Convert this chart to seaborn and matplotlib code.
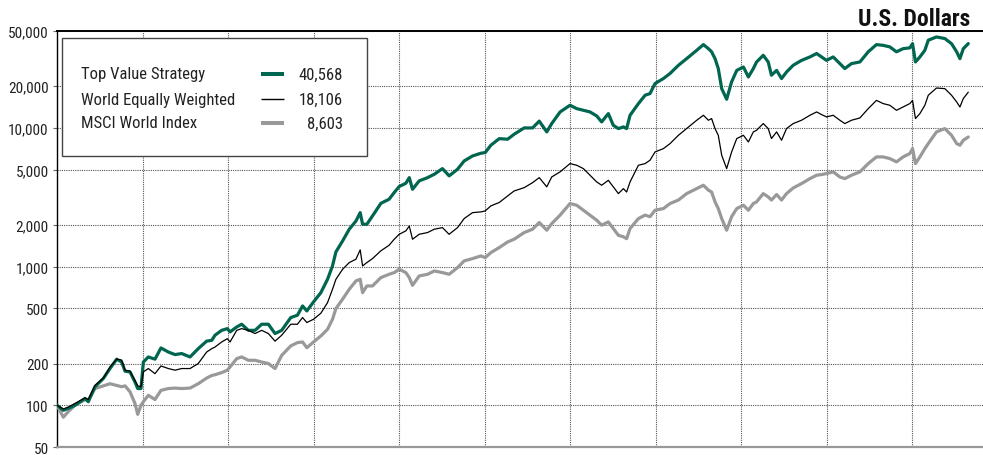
import matplotlib
matplotlib.use("Agg")
import matplotlib.pyplot as plt
import seaborn as sns
import pandas as pd
from matplotlib import font_manager
from matplotlib.ticker import FixedLocator, FuncFormatter, NullLocator
from matplotlib.patches import Rectangle

# ---------------- data ----------------
years = [
    1970.0, 1970.37, 1970.66, 1971.05, 1971.64, 1971.83, 1972.22, 1972.71, 1973.1, 1973.49,
    1973.78, 1973.98, 1974.27, 1974.56, 1974.72, 1974.91, 1975.05, 1975.34, 1975.73, 1976.08,
    1976.51, 1976.9, 1977.29, 1977.78, 1978.26, 1978.75, 1979.05, 1979.24, 1979.63, 1979.96,
    1980.12, 1980.51, 1980.8, 1981.19, 1981.58, 1981.97, 1982.36, 1982.75, 1983.14,
    1983.67, 1984.06, 1984.36, 1984.61, 1985.0, 1985.43, 1985.82, 1986.11, 1986.31, 1986.7,
    1987.09, 1987.48, 1987.73, 1987.87, 1988.12, 1988.45, 1988.94, 1989.42, 1989.72, 1990.01,
    1990.4, 1990.6, 1990.79, 1991.18, 1991.67, 1992.06, 1992.54, 1992.93, 1993.42, 1993.81,
    1994.3, 1994.79, 1995.04, 1995.37, 1995.86, 1996.35, 1996.73, 1997.32, 1997.81, 1998.2,
    1998.64, 1998.93, 1999.42, 2000.0, 2000.39, 2000.78, 2001.17, 2001.56, 2001.85, 2002.24,
    2002.53, 2002.83, 2003.12, 2003.31, 2003.51, 2004.0, 2004.39, 2004.68, 2004.97, 2005.46,
    2005.85, 2006.34, 2006.82, 2007.41, 2007.8, 2008.09, 2008.28, 2008.48, 2008.67, 2008.87,
    2009.16, 2009.45, 2009.75, 2010.14, 2010.43, 2010.72,
    2010.91, 2011.3, 2011.59, 2011.78, 2012.08, 2012.37, 2012.66, 2013.05, 2013.54, 2014.03,
    2014.42, 2014.71, 2015.0, 2015.39, 2015.78, 2016.07, 2016.46, 2016.95, 2017.44, 2017.92,
    2018.31, 2018.7, 2019.09, 2019.48, 2019.87, 2020.03, 2020.2, 2020.46, 2020.75, 2020.95,
    2021.43, 2021.92, 2022.31, 2022.61, 2022.8, 2023.0, 2023.29,
]

top_value = [
    100, 92, 95, 100, 112, 106, 136, 156, 184, 215,
    205, 176, 174, 147, 132, 132, 205, 223, 215, 259,
    242, 232, 236, 223, 256, 290, 294, 320, 347, 357,
    338, 367, 384, 347, 347, 384, 384, 329, 347,
    429, 446, 520, 479, 556, 649, 810, 1011, 1276, 1530,
    1860, 2130, 2450, 2020, 2020, 2320, 2860, 3060, 3420, 3780,
    3990, 4380, 3610, 4150, 4380, 4630, 5090, 4510, 5030, 5780,
    6280, 6570, 6640, 7500, 8370, 8290, 9000, 10000, 10000, 11200,
    9360, 10750, 13040, 14570, 13780, 13400, 13040, 12200, 11050, 12690,
    10450, 9890, 10170, 9890, 12340, 14980, 17200, 17700, 20900, 22700,
    24700, 28300, 31600, 36300, 39900, 37300, 35400, 31600, 26800, 19200,
    16100, 21500, 26000, 27500, 23300, 26800,
    29900, 33400, 29900, 24000, 26000, 22700, 25300, 28300, 30700, 32500,
    34400, 32500, 30700, 32500, 29100, 26800, 29100, 29900, 35400, 39900,
    39400, 38400, 35400, 37300, 37800, 40500, 29900, 32500, 36300, 42900,
    45300, 44100, 40500, 35400, 31600, 37300, 40568,
]

world_equal = [
    100, 94, 97, 103, 113, 110, 139, 157, 189, 215,
    212, 179, 176, 151, 138, 136, 174, 184, 169, 192,
    184, 179, 184, 184, 200, 242, 256, 263, 286, 302,
    286, 347, 357, 347, 329, 347, 329, 290, 320,
    384, 384, 429, 395, 417, 461, 550, 686, 810, 956,
    1069, 1130, 1320, 1011, 1069, 1142, 1300, 1425, 1575, 1710,
    1810, 1960, 1575, 1710, 1760, 1860, 1910, 1710, 1910, 2220,
    2450, 2480, 2520, 2740, 2900, 3230, 3510, 3710, 4030, 4380,
    3760, 4430, 4820, 5530, 5380, 5090, 4560, 4080, 3860, 4190,
    3760, 3360, 3650, 3450, 4080, 5380, 5530, 5850, 6710, 7090,
    7710, 8850, 9890, 11360, 12340, 11360, 11680, 9890, 8850, 6350,
    5090, 6710, 8380, 8850, 7920, 9360,
    9620, 10750, 9890, 8380, 9360, 8150, 9890, 10750, 11360, 12340,
    13040, 12480, 12000, 12340, 11360, 10750, 11360, 11800, 13780, 15800,
    14980, 14570, 13400, 14160, 14980, 15800, 11680, 12690, 14570, 17200,
    19400, 19200, 17200, 15400, 14160, 16300, 18106,
]

msci_world = [
    100, 82, 90, 100, 110, 109, 132, 138, 143, 139,
    136, 138, 125, 103, 86, 100, 106, 118, 110, 128,
    132, 133, 132, 133, 143, 157, 164, 166, 172, 179,
    189, 217, 223, 211, 211, 205, 200, 184, 229,
    268, 283, 286, 260, 286, 316, 353, 417, 498, 582,
    686, 788, 810, 649, 725, 725, 833, 880, 905, 956,
    905, 833, 733, 856, 880, 930, 905, 880, 983, 1099,
    1142, 1194, 1161, 1262, 1371, 1505, 1575, 1760, 1860, 2080,
    1830, 2040, 2350, 2850, 2770, 2550, 2350, 2160, 1990, 2100,
    1880, 1680, 1640, 1590, 1880, 2220, 2350, 2290, 2550, 2620,
    2850, 3020, 3360, 3650, 3860, 3560, 3450, 2930, 2620, 2220,
    1830, 2290, 2620, 2770, 2550, 2850,
    2930, 3360, 3180, 3020, 3310, 3020, 3360, 3690, 3970, 4310,
    4560, 4610, 4690, 4820, 4430, 4310, 4560, 4820, 5530, 6180,
    6180, 6010, 5690, 6180, 6530, 7090, 5530, 6180, 7090, 7710,
    9360, 9890, 8850, 7710, 7500, 8150, 8603,
]

series_names = ["Top Value Strategy", "World Equally Weighted", "MSCI World Index"]
end_labels = ["40,568", "18,106", "8,603"]
y_ticks = [50, 100, 200, 500, 1000, 2000, 5000, 10000, 20000, 50000]
x_grid_years = [1975, 1980, 1985, 1990, 1995, 2000, 2005, 2010, 2015, 2020]
title = "U.S. Dollars"

# ---------------- styling ----------------
sns.set_style("white")
available = {f.name for f in font_manager.fontManager.ttflist}
family = [f for f in ["Liberation Sans Narrow", "Roboto Condensed", "Liberation Sans"] if f in available]
plt.rcParams["font.family"] = family + ["DejaVu Sans"]

GREEN = "#00664f"
BLACK = "#000000"
GRAY = "#999999"
colors = [GREEN, BLACK, GRAY]
widths = [2.3, 0.9, 2.3]

df = pd.DataFrame({"year": years,
                   series_names[0]: top_value,
                   series_names[1]: world_equal,
                   series_names[2]: msci_world})

W, H = 983, 456
fig = plt.figure(figsize=(W / 100, H / 100), dpi=100)
ax = fig.add_axes([57 / W, 8 / H, 926 / W, 416 / H])

# draw order: gray, green, black on top
for idx in [2, 0, 1]:
    sns.lineplot(data=df, x="year", y=series_names[idx], ax=ax, color=colors[idx],
                 linewidth=widths[idx], estimator=None, sort=False, zorder=3 + (idx == 1))

ax.set_yscale("log")
ax.set_ylim(50, 50000)
ax.set_xlim(1970, 2024.15)
ax.yaxis.set_major_locator(FixedLocator(y_ticks))
ax.yaxis.set_minor_locator(NullLocator())
ax.yaxis.set_major_formatter(FuncFormatter(lambda v, p: f"{int(round(v)):,}"))
ax.xaxis.set_major_locator(FixedLocator(x_grid_years))
ax.xaxis.set_minor_locator(NullLocator())
ax.set_xticklabels([])
ax.tick_params(axis="x", length=0)
ax.tick_params(axis="y", length=3, width=0.8, color="#666666", labelsize=11,
               labelcolor="#222222", pad=3, direction="out", left=True)
ax.set_xlabel("")
ax.set_ylabel("")

grid_kw = dict(color="#555555", linewidth=0.8, linestyle=(0, (1, 1)))
ax.grid(True, axis="both", **grid_kw)
ax.set_axisbelow(True)

ax.spines["right"].set_visible(False)
ax.spines["top"].set_color("black")
ax.spines["top"].set_linewidth(1.4)
ax.spines["left"].set_color("black")
ax.spines["left"].set_linewidth(1.0)
ax.spines["bottom"].set_color(GRAY)
ax.spines["bottom"].set_linewidth(1.6)

# ---------------- legend box ----------------
def ax_x(px):
    return (px - 57) / 926

def ax_y(py):
    return (448 - py) / 416

box = Rectangle((ax_x(62), ax_y(157)), ax_x(367) - ax_x(62), ax_y(39) - ax_y(157),
                transform=ax.transAxes, facecolor="white", edgecolor="#444444",
                linewidth=1.0, zorder=10)
ax.add_patch(box)
row_y = [75, 100, 124]
for i in range(3):
    yy = ax_y(row_y[i])
    ax.text(ax_x(81), yy, series_names[i], transform=ax.transAxes, ha="left", va="center",
            fontsize=12, color="#222222", zorder=11)
    ax.plot([ax_x(261), ax_x(284)], [yy, yy], transform=ax.transAxes, color=colors[i],
            linewidth=widths[i] + (0.6 if i != 1 else 0.1), solid_capstyle="butt", zorder=11)
    ax.text(ax_x(343), yy, end_labels[i], transform=ax.transAxes, ha="right", va="center",
            fontsize=12, color="#222222", zorder=11)

fig.text(970 / W, 1 - 19 / H, title, ha="right", va="center", fontsize=17,
         fontweight="bold", color="#111111")

fig.savefig("out.png", dpi=100)
